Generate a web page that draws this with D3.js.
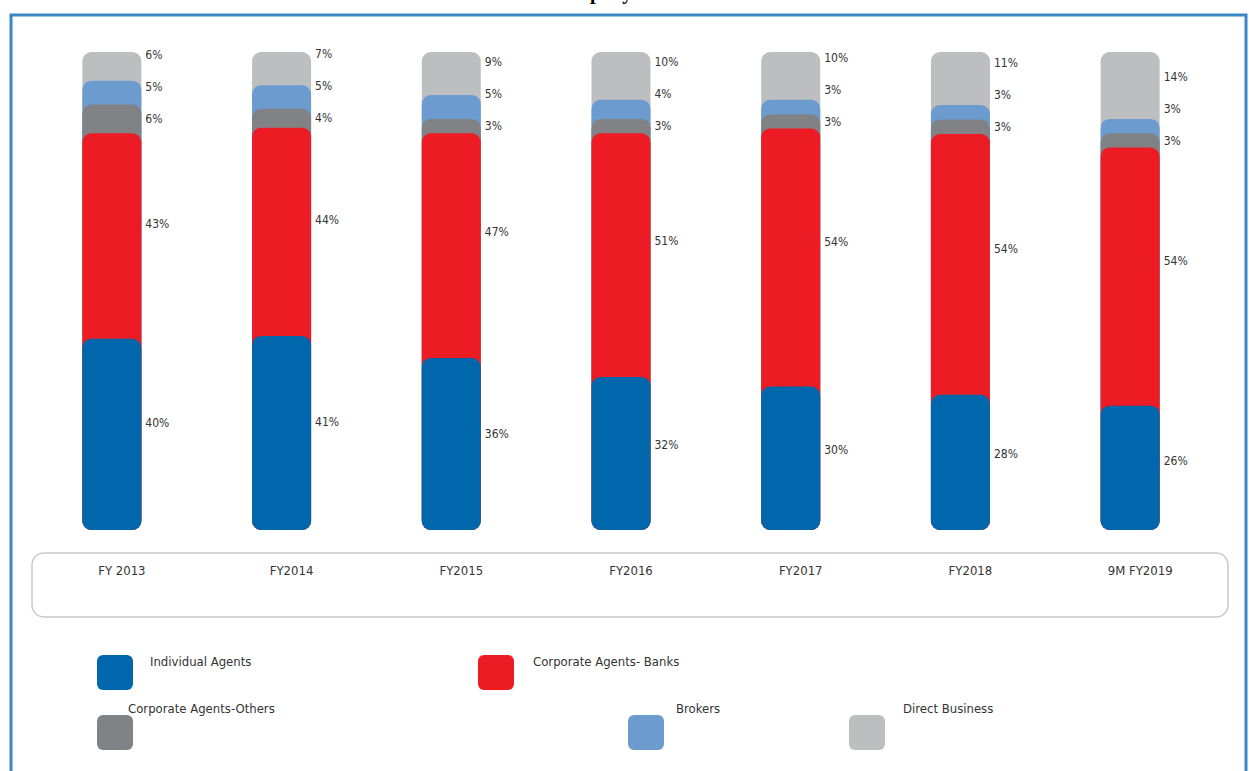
<!DOCTYPE html>
<html lang="en">
	<head>
		<meta charset="utf-8">
		<title>D3: Distribution mix stacked bars</title>
		<script src="https://d3js.org/d3.v7.min.js"></script>
		<style type="text/css">
			body { margin: 0; background: #fff; }
			svg text { font-family: "Liberation Sans Narrow", "DejaVu Sans Condensed", "Liberation Sans", sans-serif; font-stretch: condensed; fill: #333; }
		</style>
	</head>
	<body>
		<script type="text/javascript">
			// Width and height
			var w = 1249;
			var h = 771;

			// Data
			var years = ["FY 2013", "FY2014", "FY2015", "FY2016", "FY2017", "FY2018", "9M FY2019"];
			var individualAgents = [40, 41, 36, 32, 30, 28, 26];
			var corporateBanks = [43, 44, 47, 51, 54, 54, 54];
			var corporateOthers = [6, 4, 3, 3, 3, 3, 3];
			var brokers = [5, 5, 5, 4, 3, 3, 3];
			var directBusiness = [6, 7, 9, 10, 10, 11, 14];

			var seriesNames = ["Individual Agents", "Corporate Agents- Banks", "Corporate Agents-Others", "Brokers", "Direct Business"];
			var seriesKeys = ["ind", "bank", "oth", "brk", "dir"];
			var colors = ["#0067ad", "#ed1c24", "#808285", "#6b9bcf", "#bcbec0"];

			var table = years.map(function(y, i) {
				return { year: y, ind: individualAgents[i], bank: corporateBanks[i], oth: corporateOthers[i], brk: brokers[i], dir: directBusiness[i] };
			});

			var svg = d3.select("body").append("svg").attr("width", w).attr("height", h);

			// title, cut off at top of the frame
			svg.append("text")
				.attr("x", 549).attr("y", -1)
				.style("font-family", "'Liberation Serif', serif")
				.style("font-stretch", "normal")
				.style("font-weight", "bold").style("font-size", "20px").style("fill", "#000")
				.text("Company");

			// outer frame
			svg.append("rect")
				.attr("x", 11).attr("y", 15)
				.attr("width", 1235).attr("height", 800)
				.attr("fill", "none").attr("stroke", "#3a86c8").attr("stroke-width", 3);

			// scales
			var xScale = d3.scalePoint().domain(years).range([27, 1215]).padding(0.5);
			var yScale = d3.scaleLinear().domain([0, 1]).range([530, 52]);
			var barW = 59;

			var stack = d3.stack().keys(seriesKeys).offset(d3.stackOffsetExpand);
			var series = stack(table);

			// draw top series first so lower rounded tops overlap it
			var drawOrder = series.slice().reverse();
			drawOrder.forEach(function(s) {
				svg.append("g")
					.selectAll("rect")
					.data(s)
					.enter()
					.append("rect")
						.attr("x", d => xScale(d.data.year) - barW / 2)
						.attr("y", d => yScale(d[1]))
						.attr("width", barW)
						.attr("height", d => yScale(0) - yScale(d[1]))
						.attr("rx", 9).attr("ry", 9)
						.attr("fill", colors[s.index]);
			});

			// value labels, pushed up when they crowd
			years.forEach(function(yr, i) {
				var prev = null;
				series.forEach(function(s, k) {
					var d = s[i];
					var top = yScale(d[1]), bot = yScale(d[0]);
					var ly = (top + bot) / 2 - 0.06 * (bot - top);
					if (k >= 2) ly = (top + bot) / 2;
					if (k >= 3 && ly > prev - 32) ly = prev - 32;
					prev = ly;
					svg.append("text")
						.attr("x", xScale(yr) + barW / 2 + 4)
						.attr("y", ly)
						.attr("dy", "0.35em")
						.style("font-size", "12px")
						.text(table[i][seriesKeys[k]] + "%");
				});
			});

			// category box
			svg.append("rect")
				.attr("x", 32).attr("y", 553)
				.attr("width", 1196).attr("height", 64)
				.attr("rx", 12).attr("ry", 12)
				.attr("fill", "none").attr("stroke", "#c9c9c9").attr("stroke-width", 1.5);

			svg.append("g")
				.selectAll("text")
				.data(years)
				.enter()
				.append("text")
					.attr("x", d => xScale(d) + 10)
					.attr("y", 575)
					.attr("text-anchor", "middle")
					.style("font-size", "13px")
					.text(d => d);

			// legend
			var legendPos = [
				{ sx: 97, sy: 655, tx: 150, ty: 666 },
				{ sx: 478, sy: 655, tx: 533, ty: 666 },
				{ sx: 97, sy: 715, tx: 128, ty: 713 },
				{ sx: 628, sy: 715, tx: 676, ty: 713 },
				{ sx: 849, sy: 715, tx: 903, ty: 713 }
			];
			var legend = svg.append("g")
				.selectAll("g")
				.data(seriesNames)
				.enter()
				.append("g");
			legend.append("rect")
				.attr("x", (d, i) => legendPos[i].sx)
				.attr("y", (d, i) => legendPos[i].sy)
				.attr("width", 36).attr("height", 35)
				.attr("rx", 6).attr("ry", 6)
				.attr("fill", (d, i) => colors[i]);
			legend.append("text")
				.attr("x", (d, i) => legendPos[i].tx)
				.attr("y", (d, i) => legendPos[i].ty)
				.style("font-size", "13px")
				.text(d => d);
		</script>
	</body>
</html>
